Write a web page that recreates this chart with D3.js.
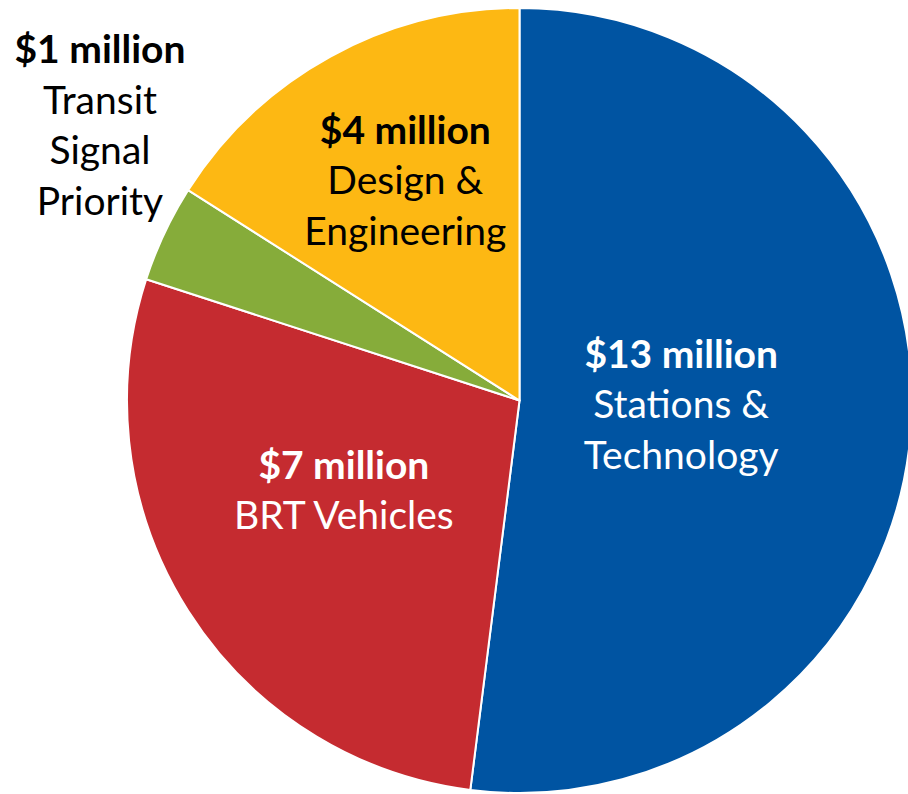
<!DOCTYPE html>
<html><head><meta charset="utf-8">
<script src="https://cdn.jsdelivr.net/npm/d3@7"></script>
<style>html,body{margin:0;padding:0;background:#fff;overflow:hidden}</style>
</head><body>
<svg id="chart" width="908" height="794"></svg>
<script>
const categories = ["Stations & Technology", "BRT Vehicles", "Transit Signal Priority", "Design & Engineering"];
const amounts = [13, 7, 1, 4];
const valueLabels = ["$13 million", "$7 million", "$1 million", "$4 million"];
const nameLines = [["Stations &", "Technology"], ["BRT Vehicles"], ["Transit", "Signal", "Priority"], ["Design &", "Engineering"]];
const colors = ["#0054A2", "#C52B30", "#86AC3A", "#FDB813"];
const textColors = ["#ffffff", "#ffffff", "#000000", "#000000"];

const svg = d3.select("#chart");
const cx = 519.5, cy = 400.5, R = 392.5;
const g = svg.append("g").attr("transform", `translate(${cx},${cy})`);

const pie = d3.pie().sort(null).value(d => d)(amounts);
const arc = d3.arc().innerRadius(0).outerRadius(R);

g.selectAll("path").data(pie).join("path")
  .attr("d", arc)
  .attr("fill", (d, i) => colors[i])
  .attr("stroke", "#fff").attr("stroke-width", 2).attr("stroke-linejoin", "round");

// label anchor: [radius, first-baseline offset] for in-slice labels; null => outside label
const labelLayout = [{r: 162, top: -43}, {r: 208, top: -33}, null, {r: 237, top: -49}];
const fontFamily = "Lato, 'Open Sans', sans-serif";
const fs = 39, lh = 50.5;

pie.forEach((d, i) => {
  let x, y0;
  const L = labelLayout[i];
  if (L) {
    const a = (d.startAngle + d.endAngle) / 2;
    x = cx + L.r * Math.sin(a);
    y0 = cy - L.r * Math.cos(a) + L.top;
  } else {
    x = 100; y0 = 63;
  }
  const t = svg.append("text").attr("text-anchor", "middle")
    .attr("font-family", fontFamily).attr("font-size", fs)
    .attr("fill", textColors[i]);
  t.append("tspan").attr("x", x).attr("y", y0).attr("font-weight", "bold").text(valueLabels[i]);
  nameLines[i].forEach((ln, k) => {
    t.append("tspan").attr("x", x).attr("y", y0 + (k + 1) * lh).text(ln);
  });
});
</script>
</body></html>
